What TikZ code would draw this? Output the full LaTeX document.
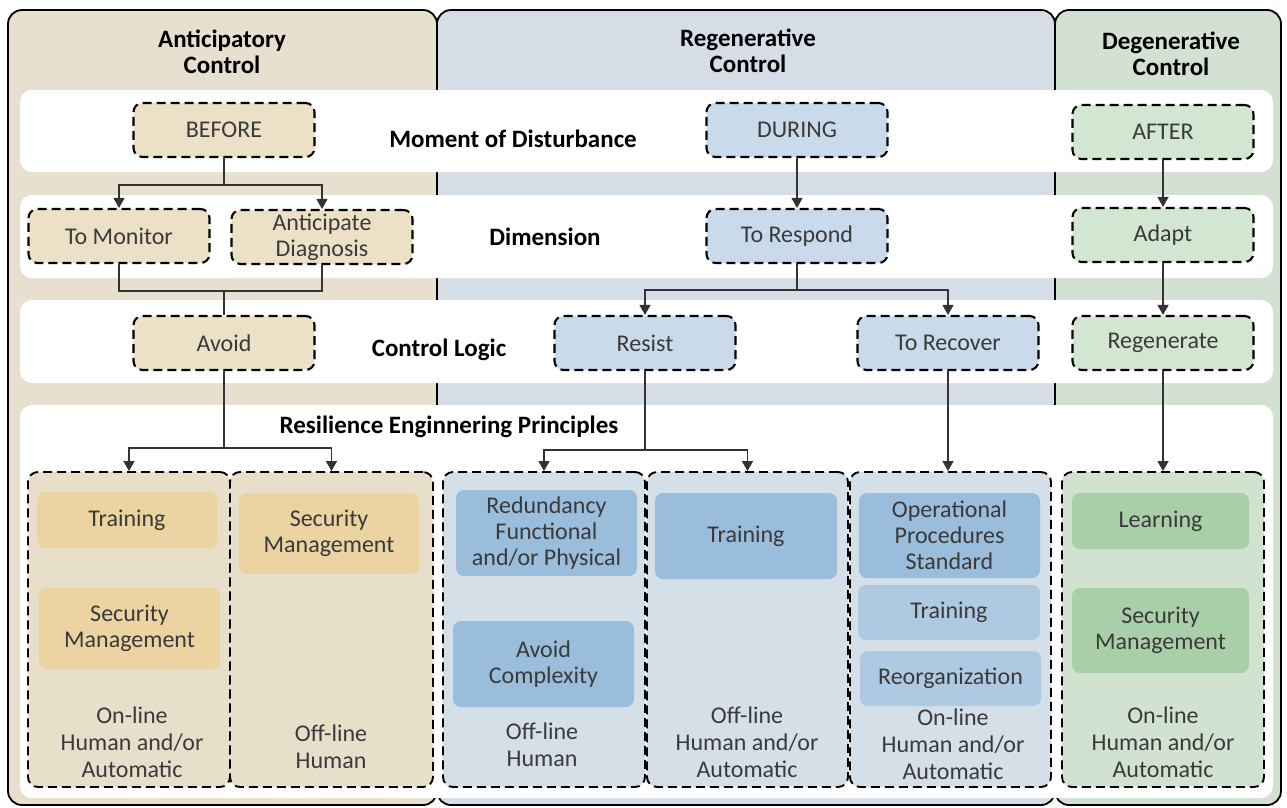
\documentclass[tikz,border=0pt]{standalone}
\usepackage{fontspec}
\setmainfont{Carlito}
\usetikzlibrary{arrows.meta}

\definecolor{colA}{HTML}{E8E0CE}
\definecolor{colB}{HTML}{D5DEE7}
\definecolor{colC}{HTML}{D3E1D2}
\definecolor{topA}{HTML}{ECE0C7}
\definecolor{topB}{HTML}{C9DAEA}
\definecolor{topC}{HTML}{D3E6D1}
\definecolor{grpA}{HTML}{E8DFCB}
\definecolor{grpB}{HTML}{D5DFE8}
\definecolor{grpC}{HTML}{D1E2D0}
\definecolor{inA}{HTML}{EBD3A2}
\definecolor{inB}{HTML}{9ABDDC}
\definecolor{inBl}{HTML}{ADCAE2}
\definecolor{inC}{HTML}{A9CFA8}
\definecolor{linec}{HTML}{333333}
\definecolor{txt}{HTML}{3A3A3A}

\newcommand\boxfont{\fontsize{24}{26}\selectfont}
\newcommand\notefont{\fontsize{24}{27}\selectfont}
\newcommand\headfont{\fontsize{25}{26}\selectfont\bfseries}

\tikzset{
  colframe/.style={draw=black, line width=1.8pt, rounded corners=14pt},
  band/.style={fill=white, rounded corners=12pt},
  topbox/.style={draw=black, line width=2.1pt, dash pattern=on 9pt off 5pt,
    rounded corners=9pt, minimum width=181pt, minimum height=54pt,
    inner sep=0pt, align=center, font=\boxfont, text=txt},
  grpbox/.style={draw=black, line width=1.9pt, dash pattern=on 9pt off 5pt,
    rounded corners=10pt, minimum height=315pt, inner sep=0pt},
  inbox/.style={rounded corners=8pt, inner sep=0pt, align=center,
    font=\boxfont, text=txt},
  note/.style={align=center, font=\notefont, text=txt, inner sep=0pt},
  head/.style={align=center, font=\headfont, text=black, inner sep=0pt},
  rowlabel/.style={anchor=base, font=\headfont, text=black, inner sep=0pt},
  wire/.style={draw=linec, line width=1.2pt},
  conn/.style={wire, -{Triangle[length=10pt,width=11pt]}}
}

\begin{document}
\begin{tikzpicture}[x=1pt,y=-1pt]
\useasboundingbox (0,0) rectangle (1287,807);

% three control columns
\draw[colframe, fill=colA] (8,10) rectangle (437,805);
\draw[colframe, fill=colB] (437,10) rectangle (1055,805);
\draw[colframe, fill=colC] (1055,10) rectangle (1281,805);

% column headings
\node[head] (hA) at (222,52) {Anticipatory\\Control};
\node[head] (hB) at (748,51) {Regenerative\\Control};
\node[head] (hC) at (1171,54) {Degenerative\\Control};

% white rows
\fill[band] (20,90) rectangle (1273,172);
\fill[band] (20,195) rectangle (1273,278);
\fill[band] (20,300) rectangle (1273,383);
\fill[band] (20,405) rectangle (1273,798);

% row labels
\node[rowlabel] (lMoment) at (513,147) {Moment of Disturbance};
\node[rowlabel] (lDim) at (545,245) {Dimension};
\node[rowlabel] (lLogic) at (439,356) {Control Logic};
\node[rowlabel] (lRes) at (449,433) {Resilience Enginnering Principles};

% moment of disturbance
\node[topbox, fill=topA] (before) at (224,130) {BEFORE};
\node[topbox, fill=topB] (during) at (797,130) {DURING};
\node[topbox, fill=topC] (after) at (1163,132) {AFTER};

% dimension
\node[topbox, fill=topA] (monitor) at (119,236) {To Monitor};
\node[topbox, fill=topA] (diag) at (322,237) {Anticipate\\Diagnosis};
\node[topbox, fill=topB] (respond) at (797,236) {To Respond};
\node[topbox, fill=topC] (adapt) at (1163,235) {Adapt};

% control logic
\node[topbox, fill=topA] (avoid) at (224,343) {Avoid};
\node[topbox, fill=topB] (resist) at (645,343) {Resist};
\node[topbox, fill=topB] (recover) at (948,343) {To Recover};
\node[topbox, fill=topC] (regen) at (1163,343) {Regenerate};

% principle groups
\node[grpbox, fill=grpA, minimum width=202pt] (g1) at (129,629.5) {};
\node[grpbox, fill=grpA, minimum width=203pt] (g2) at (331.5,629.5) {};
\node[grpbox, fill=grpB, minimum width=202pt] (g3) at (544,629.5) {};
\node[grpbox, fill=grpB, minimum width=201pt] (g4) at (747.5,629.5) {};
\node[grpbox, fill=grpB, minimum width=201pt] (g5) at (950.5,629.5) {};
\node[grpbox, fill=grpC, minimum width=202pt] (g6) at (1163,629.5) {};

% principles inside the groups
\node[inbox, fill=inA, minimum width=180pt, minimum height=56pt] (a1) at (127,520) {Training};
\node[inbox, fill=inA, minimum width=181pt, minimum height=81pt] (a2) at (129.5,628.5) {Security\\Management};
\node[inbox, fill=inA, minimum width=180pt, minimum height=81pt] (a3) at (329,533.5) {Security\\Management};

\node[inbox, fill=inB, minimum width=181pt, minimum height=86pt] (b1) at (546.5,533) {Redundancy\\Functional\\and/or Physical};
\node[inbox, fill=inB, minimum width=181pt, minimum height=86pt] (b2) at (543.5,664) {Avoid\\Complexity};
\node[inbox, fill=inB, minimum width=182pt, minimum height=86pt] (b3) at (746,536) {Training};
\node[inbox, fill=inB, minimum width=181pt, minimum height=85pt] (b4) at (949.5,535.5) {Operational\\Procedures\\Standard};
\node[inbox, fill=inBl, minimum width=182pt, minimum height=55pt] (b5) at (949,612.5) {Training};
\node[inbox, fill=inBl, minimum width=181pt, minimum height=55pt] (b6) at (950.5,678.5) {Reorganization};

\node[inbox, fill=inC, minimum width=177pt, minimum height=56pt] (c1) at (1160.5,521) {Learning};
\node[inbox, fill=inC, minimum width=177pt, minimum height=85pt] (c2) at (1160.5,630.5) {Security\\Management};

% operating mode of each group
\node[note] (n1) at (132,742) {On-line\\Human and/or\\Automatic};
\node[note] (n2) at (331,746.5) {Off-line\\Human};
\node[note] (n3) at (542,745) {Off-line\\Human};
\node[note] (n4) at (747,742) {Off-line\\Human and/or\\Automatic};
\node[note] (n5) at (953,744) {On-line\\Human and/or\\Automatic};
\node[note] (n6) at (1163,742.5) {On-line\\Human and/or\\Automatic};

% connectors: anticipatory branch
\draw[wire] (before.south) -- ++(0,27) coordinate (sBefore);
\draw[conn] (sBefore) -| (monitor.north);
\draw[conn] (sBefore) -| (diag.north);
\coordinate (mAvoid) at (224,291);
\draw[wire] (monitor.south) |- (mAvoid) -| (diag.south);
\draw[wire] (mAvoid) -- (avoid.north);
\draw[wire] (avoid.south) -- (224,448) coordinate (sAvoid);
\draw[conn] (sAvoid) -| (g1.north);
\draw[conn] (sAvoid) -| (g2.north);

% connectors: regenerative branch
\draw[conn] (during.south) -- (respond.north);
\draw[wire] (respond.south) -- (797,290) coordinate (sRespond);
\draw[conn] (sRespond) -| (resist.north);
\draw[conn] (sRespond) -| (recover.north);
\draw[wire] (resist.south) -- (645,450) coordinate (sResist);
\draw[conn] (sResist) -| (g3.north);
\draw[conn] (sResist) -| (g4.north);
\draw[conn] (recover.south) -- (recover.south |- g5.north);

% connectors: degenerative branch
\draw[conn] (after.south) -- (adapt.north);
\draw[conn] (adapt.south) -- (regen.north);
\draw[conn] (regen.south) -- (regen.south |- g6.north);
\end{tikzpicture}
\end{document}
